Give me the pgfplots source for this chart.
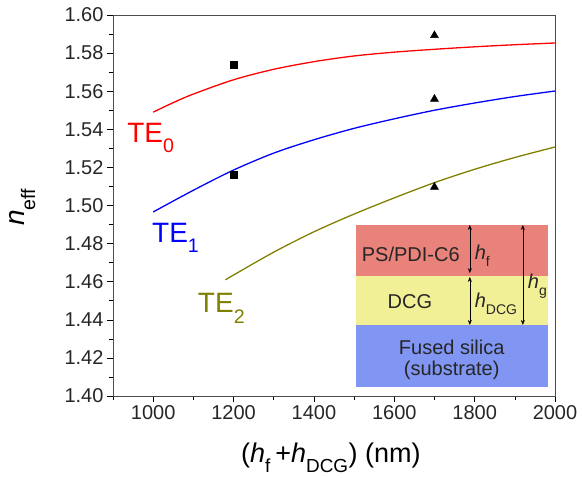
\documentclass[border=0pt]{standalone}
\usepackage{fontspec}
\setmainfont{Liberation Sans}
\usepackage{pgfplots}
\pgfplotsset{compat=1.18}
\usetikzlibrary{arrows.meta}
\definecolor{olivec}{RGB}{128,128,0}
\definecolor{boxred}{RGB}{232,130,122}
\definecolor{boxyel}{RGB}{242,240,150}
\definecolor{boxblue}{RGB}{128,150,242}
\newcommand\sub[1]{\raisebox{-0.18em}{\textsubscript{#1}}}
\begin{document}
\begin{tikzpicture}
\useasboundingbox (0,0) rectangle (582bp,478bp);
\begin{axis}[
  at={(113bp,82bp)}, anchor=south west,
  width=442bp, height=381bp, scale only axis,
  xmin=900, xmax=2000, ymin=1.40, ymax=1.60,
  xtick={1000,1200,...,2000},
  minor xtick={900,1100,...,1900},
  ytick={1.40,1.42,...,1.61},
  minor y tick num=1,
  xtick pos=left, ytick pos=left,
  tick align=outside,
  major tick length=6bp, minor tick length=3.5bp,
  every tick/.style={black, line width=0.6pt},
  axis line style={black!70, line width=0.8pt},
  /pgf/number format/assume math mode=true,
  yticklabel style={/pgf/number format/.cd, fixed, fixed zerofill, precision=2},
  xticklabel style={/pgf/number format/.cd, 1000 sep={}},
  tick label style={font=\fontsize{20bp}{24bp}\selectfont, text=black!85},
  scaled y ticks=false,
  xlabel={(\textit{h}\sub{f}\,+\textit{h}\sub{DCG}) (nm)},
  xlabel style={at={(axis description cs:0.493,-0.163)}, anchor=center, font=\fontsize{27bp}{30bp}\selectfont},
  clip=false,
]
% TE0
\addplot[red, line width=1.3pt, smooth] coordinates {
 (1000,1.549) (1050,1.554) (1100,1.5585) (1200,1.566) (1300,1.5715) (1400,1.5755)
 (1500,1.5785) (1600,1.5805) (1700,1.5820) (1800,1.5833) (1900,1.5844) (2000,1.5853)};
% TE1
\addplot[blue, line width=1.3pt, smooth] coordinates {
 (1000,1.4966) (1100,1.508) (1200,1.5186) (1300,1.5275) (1400,1.5345) (1500,1.5405)
 (1600,1.5455) (1700,1.5500) (1800,1.5538) (1900,1.5572) (2000,1.5601)};
% TE2
\addplot[olivec, line width=1.3pt, smooth] coordinates {
 (1180,1.461) (1200,1.4635) (1300,1.4755) (1400,1.4862) (1500,1.4955)
 (1600,1.5040) (1700,1.5120) (1800,1.5190) (1900,1.5252) (2000,1.5307)};
% measured points
\addplot[only marks, mark=square*, mark size=3.6bp, black] coordinates {(1200,1.574) (1200,1.516)};
\addplot[only marks, mark=triangle*, mark size=4.6bp, black] coordinates {(1700,1.5893) (1700,1.5559) (1700,1.5097)};
% y label
\node[rotate=90, anchor=center, inner sep=0, font=\fontsize{28bp}{32bp}\selectfont] at (axis description cs:-0.205,0.496) {\textit{n}\sub{eff}};
% labels
\node[anchor=base west, inner sep=0, text=red, font=\fontsize{28bp}{32bp}\selectfont] at (axis cs:935,1.5333) {TE\sub{0}};
\node[anchor=base west, inner sep=0, text=blue, font=\fontsize{28bp}{32bp}\selectfont] at (axis cs:997,1.4808) {TE\sub{1}};
\node[anchor=base west, inner sep=0, text=olivec, font=\fontsize{28bp}{32bp}\selectfont] at (axis cs:1111,1.4436) {TE\sub{2}};
% inset
\fill[boxred] (axis cs:1504.5,1.4898) rectangle (axis cs:1982,1.463);
\fill[boxyel] (axis cs:1504.5,1.463) rectangle (axis cs:1982,1.4373);
\fill[boxblue] (axis cs:1504.5,1.4373) rectangle (axis cs:1982,1.4047);
\draw[{Stealth[length=5bp,width=4bp]}-{Stealth[length=5bp,width=4bp]}, line width=0.6pt] (axis cs:1788,1.4898) -- (axis cs:1788,1.4645);
\draw[{Stealth[length=5bp,width=4bp]}-{Stealth[length=5bp,width=4bp]}, line width=0.6pt] (axis cs:1788,1.4625) -- (axis cs:1788,1.4373);
\draw[{Stealth[length=5bp,width=4bp]}-{Stealth[length=5bp,width=4bp]}, line width=0.6pt] (axis cs:1920,1.4898) -- (axis cs:1920,1.4373);
\begin{scope}[every node/.style={inner sep=0, text=black!85, font=\fontsize{20bp}{24bp}\selectfont}]
\node[anchor=center] at (axis cs:1641,1.4745) {PS/PDI-C6};
\node[anchor=west] at (axis cs:1800,1.4735) {\textit{h}\sub{f}};
\node[anchor=west] at (axis cs:1932,1.4575) {\textit{h}\sub{g}};
\node[anchor=center] at (axis cs:1639,1.4493) {DCG};
\node[anchor=west] at (axis cs:1800,1.4483) {\textit{h}\sub{DCG}};
\node[anchor=center] at (axis cs:1743,1.4257) {Fused silica};
\node[anchor=center] at (axis cs:1743,1.4137) {(substrate)};
\end{scope}
\end{axis}
\end{tikzpicture}
\end{document}
